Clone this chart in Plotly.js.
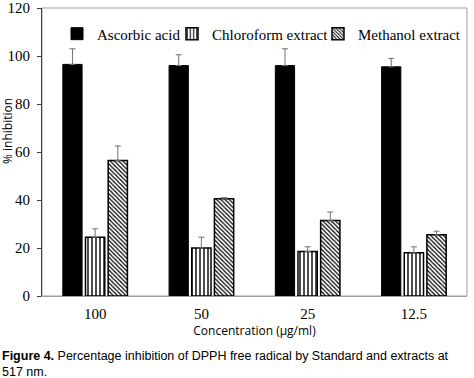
<!DOCTYPE html>
<html><head><meta charset="utf-8">
<script src="https://cdn.plot.ly/plotly-3.0.1.min.js"></script>
<style>html,body{margin:0;padding:0;background:#fff;}#chart{width:474px;height:378px;}</style>
</head><body><div id="chart"></div>
<script>
var categories = ["100", "50", "25", "12.5"];
var ascorbic = [96.5, 96, 96, 95.5];
var ascorbicErr = [6.5, 4.5, 7, 3.5];
var chloroform = [24.5, 20, 18.5, 18];
var chloroformErr = [3.5, 4.5, 2, 2.5];
var methanol = [56.5, 40.5, 31.5, 25.5];
var methanolErr = [6, 0.5, 3.5, 1.5];
var zeros = [0, 0, 0, 0];

function err(a){return {type:'data', symmetric:false, array:a, arrayminus:zeros, color:'#707070', thickness:1, width:3};}

var traces = [
  {type:'bar', name:'Ascorbic acid', x:categories, y:ascorbic, error_y:err(ascorbicErr), legendwidth:70,
   marker:{color:'#000000', line:{color:'#000000', width:1}}},
  {type:'bar', name:'Chloroform extract', x:categories, y:chloroform, error_y:err(chloroformErr), legendwidth:101,
   marker:{color:'#ffffff', line:{color:'#000000', width:1.5},
     pattern:{shape:'|', fgcolor:'#000000', bgcolor:'#ffffff', size:4, solidity:0.35}}},
  {type:'bar', name:'Methanol extract', x:categories, y:methanol, error_y:err(methanolErr), legendwidth:104,
   marker:{color:'#ffffff', line:{color:'#000000', width:1.5},
     pattern:{shape:'\\', fgcolor:'#000000', bgcolor:'#ffffff', size:3, solidity:0.4}}}
];

var layout = {
  width:474, height:378,
  margin:{l:42, r:7, t:8, b:82},
  paper_bgcolor:'#ffffff', plot_bgcolor:'#ffffff',
  barmode:'group', bargap:0.36, bargroupgap:0.15,
  showlegend:true,
  legend:{orientation:'h', x:1, y:0.91, xanchor:'right', yanchor:'middle', entrywidthmode:'pixels',
    font:{family:'Liberation Serif', size:15, color:'#000'}, itemwidth:30, bgcolor:'rgba(0,0,0,0)', traceorder:'normal'},
  xaxis:{type:'category', showline:true, linecolor:'#a0a0a0', linewidth:1, ticks:'',
    tickfont:{family:'Liberation Serif', size:15, color:'#000'}, ticklabelstandoff:4,
    title:{text:'Concentration (μg/ml)', font:{family:'Open Sans', size:12, color:'#000'}, standoff:4}},
  yaxis:{range:[0,120], dtick:20, showgrid:false, zeroline:false, showline:true, linecolor:'#404040', linewidth:1,
    ticks:'outside', ticklen:4, tickcolor:'#404040',
    tickfont:{family:'Liberation Serif', size:15, color:'#000'}, ticklabelstandoff:4},
  shapes:[{type:'rect', xref:'paper', yref:'paper', x0:0, x1:1, y0:0, y1:1, line:{color:'#a0a0a0', width:1}, layer:'below'}],
  annotations:[
    {xref:'paper', yref:'paper', x:0, y:0.573, xshift:-34, textangle:-90, showarrow:false, xanchor:'center', yanchor:'middle',
     text:'% inhibition', font:{family:'Open Sans', size:12, color:'#000'}},
    {xref:'paper', yref:'paper', x:0, y:0, xshift:-42, yshift:-51, xanchor:'left', yanchor:'top', align:'left', showarrow:false,
     text:'<b>Figure 4.</b> Percentage inhibition of DPPH free radical by Standard and extracts at<br>517 nm.',
     font:{family:'Liberation Sans', size:12.5, color:'#000'}}
  ]
};
Plotly.newPlot('chart', traces, layout, {displayModeBar:false, staticPlot:true});
</script></body></html>
